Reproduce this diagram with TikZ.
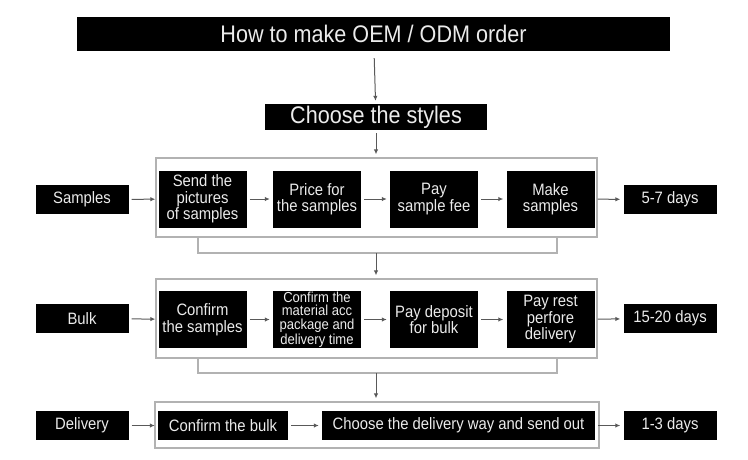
\documentclass[tikz,border=0pt]{standalone}
\usepackage{fontspec}
\setmainfont{Liberation Sans}[FakeStretch=0.9]
\usepackage{tikz}
\usetikzlibrary{arrows.meta}

\tikzset{
  blk/.style={fill=black, text=black!8, inner sep=0pt, align=center, font=\fontsize{16.5}{16.5}\selectfont},
  stepbox/.style={blk, minimum width=88, minimum height=57},
  sidebox/.style={blk, minimum width=93, minimum height=29},
  frm/.style={draw=black!30, line width=1.3pt},
  arr/.style={draw=black!65, line width=1pt, -{Latex[length=5pt,width=4.5pt]}, shorten <=3pt, shorten >=3pt},
}

\begin{document}
\begin{tikzpicture}[x=1pt, y=-1pt]
\useasboundingbox (0,0) rectangle (748,459);
% -- top --
\node[blk, minimum width=593, minimum height=34, font=\fontsize{24}{24}\selectfont] (title) at (373.5,34) {How to make OEM / ODM order};
\node[blk, minimum width=222, minimum height=26, font=\fontsize{24}{24}\selectfont] (styles) at (376,117) {Choose the styles};
% -- row 1: samples --
\node[frm, minimum width=441, minimum height=79] (row1) at (376.5,197.5) {};
\node[sidebox] (samples) at (82,199.5) {Samples};
\node[stepbox] (send) at (202.5,199) {Send the\\pictures\\of samples};
\node[stepbox] (price) at (317,199) {Price for\\the samples};
\node[stepbox] (fee) at (434,199) {Pay\\sample fee};
\node[stepbox] (make) at (550.5,199) {Make\\samples};
\node[sidebox] (d1) at (670,199.5) {5-7 days};
% -- row 2: bulk --
\node[frm, minimum width=441, minimum height=79] (row2) at (376.5,318.5) {};
\node[sidebox] (bulk) at (82,318.5) {Bulk};
\node[stepbox] (csamp) at (202.5,319.5) {Confirm\\the samples};
\node[stepbox, font=\fontsize{14.5}{13.5}\selectfont] (cmat) at (317,319.5) {Confirm the\\material acc\\package and\\delivery time};
\node[stepbox] (dep) at (434,319.5) {Pay deposit\\for bulk};
\node[stepbox] (rest) at (550.5,319.5) {Pay rest\\perfore\\delivery};
\node[sidebox] (d2) at (670,318.5) {15-20 days};
% -- row 3: delivery --
\node[frm, minimum width=444, minimum height=46] (row3) at (377,425) {};
\node[sidebox] (deliv) at (82,425.5) {Delivery};
\node[blk, minimum width=130, minimum height=29] (cbulk) at (223,425.5) {Confirm the bulk};
\node[blk, minimum width=273, minimum height=29] (way) at (458.5,425.5) {Choose the delivery way and send out};
\node[sidebox] (d3) at (670,425.5) {1-3 days};
% -- brackets --
\coordinate (b1) at (376,253);
\coordinate (b2) at (376,373);
\draw[frm] (198,237) |- (b1) -| (557,237);
\draw[frm] (198,358) |- (b2) -| (557,358);
% -- arrows --
\draw[arr, shorten <=7pt] (title) -- (styles);
\draw[arr] (styles) -- (styles |- row1.north);
\draw[arr, shorten <=0pt] (b1) -- (b1 |- row2.north);
\draw[arr, shorten <=0pt] (b2) -- (b2 |- row3.north);
\draw[arr] (samples) -- (send);
\draw[arr] (send) -- (price);
\draw[arr] (price) -- (fee);
\draw[arr] (fee) -- (make);
\draw[arr] (make) -- (d1);
\draw[arr] (bulk) -- (csamp);
\draw[arr] (csamp) -- (cmat);
\draw[arr] (cmat) -- (dep);
\draw[arr] (dep) -- (rest);
\draw[arr] (rest) -- (d2);
\draw[arr] (deliv) -- (cbulk);
\draw[arr] (cbulk) -- (way);
\draw[arr] (way) -- (d3);
\end{tikzpicture}
\end{document}
